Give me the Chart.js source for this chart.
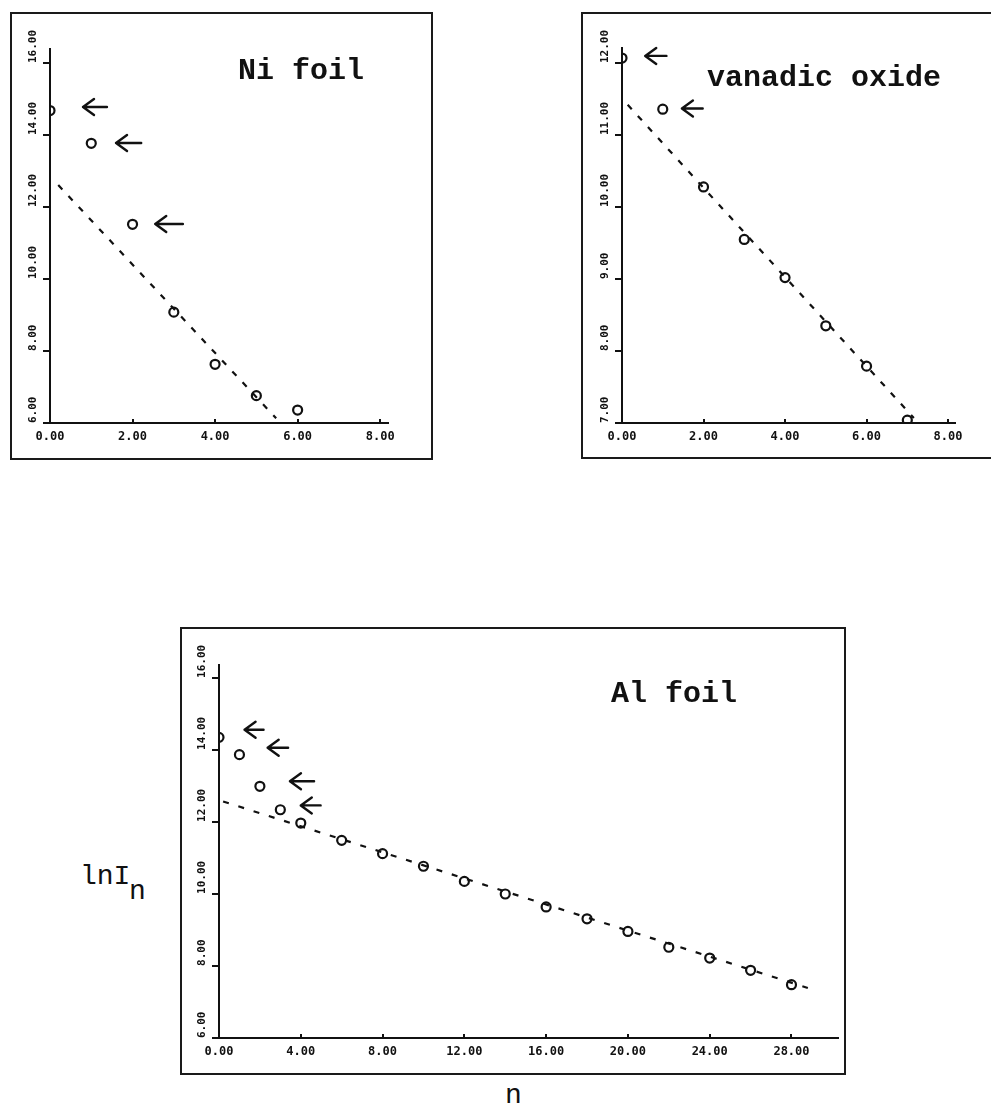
<!DOCTYPE html>
<html>
<head>
<meta charset="utf-8">
<title>lnI_n versus n</title>
<script src="https://cdn.jsdelivr.net/npm/chart.js@4/dist/chart.umd.min.js"></script>
<style>
  html, body { margin: 0; padding: 0; background: #fff; }
  #page { position: relative; width: 991px; height: 1109px; overflow: hidden; background: #fff; }
  .frame { position: absolute; border: 2px solid #1a1a1a; box-sizing: border-box; }
  canvas { position: absolute; }
  .txt { position: absolute; font-family: "Liberation Mono", "DejaVu Sans Mono", monospace; color: #111; white-space: pre; }
  .ttl { font-size: 30px; line-height: 30px; font-weight: bold; }
  .axl { font-size: 28px; line-height: 28px; }
</style>
</head>
<body>
<div id="page">
  <div class="frame" style="left:10px;top:12px;width:423px;height:448px"></div>
  <div class="frame" style="left:581px;top:12px;width:420px;height:447px"></div>
  <div class="frame" style="left:180px;top:627px;width:666px;height:448px"></div>

  <canvas id="ni" width="421" height="447" style="left:11px;top:13px"></canvas>
  <canvas id="va" width="409" height="447" style="left:582px;top:13px"></canvas>
  <canvas id="al" width="664" height="446" style="left:181px;top:628px"></canvas>

  <div class="txt ttl" style="left:238px;top:56px">Ni foil</div>
  <div class="txt ttl" style="left:707px;top:63px">vanadic oxide</div>
  <div class="txt ttl" style="left:611px;top:679px">Al foil</div>

  <div class="txt axl" style="left:80px;top:863px">lnI</div>
  <div class="txt axl" style="left:129px;top:878px">n</div>
  <div class="txt axl" style="left:505px;top:1082px">n</div>
</div>

<script>
// ---- Ni foil ----
const niN      = [0, 1, 2, 3, 4, 5, 6];
const niLnI    = [14.68, 13.77, 11.52, 9.08, 7.63, 6.76, 6.36];
const niFitN   = [0.2, 5.48];
const niFitLnI = [12.61, 6.13];
const niXTicks = [0, 2, 4, 6, 8];
const niYTicks = [6, 8, 10, 12, 14, 16];
// arrows: [tip n, tail n, lnI]
const niArrows = [[0.8, 1.38, 14.78], [1.6, 2.21, 13.78], [2.55, 3.22, 11.53]];

// ---- vanadic oxide ----
const vaN      = [0, 1, 2, 3, 4, 5, 6, 7];
const vaLnI    = [12.07, 11.36, 10.28, 9.55, 9.02, 8.35, 7.79, 7.04];
const vaFitN   = [0.14, 7.16];
const vaFitLnI = [11.42, 7.07];
const vaXTicks = [0, 2, 4, 6, 8];
const vaYTicks = [7, 8, 9, 10, 11, 12];
const vaArrows = [[0.57, 1.09, 12.1], [1.47, 1.98, 11.37]];

// ---- Al foil ----
const alN      = [0, 1, 2, 3, 4, 6, 8, 10, 12, 14, 16, 18, 20, 22, 24, 26, 28];
const alLnI    = [14.35, 13.87, 12.99, 12.34, 11.97, 11.49, 11.12, 10.77, 10.35, 10.0,
                  9.64, 9.31, 8.96, 8.52, 8.22, 7.88, 7.48];
const alFitN   = [0.2, 28.8];
const alFitLnI = [12.57, 7.39];
const alXTicks = [0, 4, 8, 12, 16, 20, 24, 28];
const alYTicks = [6, 8, 10, 12, 14, 16];
const alArrows = [[1.25, 2.18, 14.56], [2.38, 3.38, 14.06], [3.47, 4.65, 13.13], [4.0, 4.97, 12.46]];

const INK = '#111';

function pairs(xs, ys) { return xs.map((x, i) => ({ x: x, y: ys[i] })); }

function arrowPlugin(items) {
  return {
    id: 'arrows',
    afterDatasetsDraw(chart) {
      const { ctx, scales } = chart;
      ctx.save();
      ctx.strokeStyle = INK;
      ctx.lineWidth = 2.4;
      ctx.lineCap = 'round';
      ctx.lineJoin = 'round';
      items.forEach(a => {
        const tip = scales.x.getPixelForValue(a[0]);
        const tail = scales.x.getPixelForValue(a[1]);
        const py = scales.y.getPixelForValue(a[2]);
        ctx.beginPath();
        ctx.moveTo(tail, py);
        ctx.lineTo(tip, py);
        ctx.moveTo(tip + 11, py - 8);
        ctx.lineTo(tip, py);
        ctx.lineTo(tip + 11, py + 8);
        ctx.stroke();
      });
      ctx.restore();
    }
  };
}

function panel(id, p) {
  return new Chart(document.getElementById(id), {
    type: 'scatter',
    data: {
      datasets: [
        {
          data: pairs(p.fitN, p.fitLnI),
          showLine: true,
          borderColor: INK,
          borderWidth: 2.2,
          borderDash: p.dash,
          pointRadius: 0,
          fill: false
        },
        {
          data: pairs(p.n, p.lnI),
          showLine: false,
          pointStyle: 'circle',
          pointRadius: 4.5,
          borderWidth: 2.2,
          borderColor: INK,
          backgroundColor: 'rgba(255,255,255,0)'
        }
      ]
    },
    options: {
      responsive: false,
      animation: false,
      devicePixelRatio: 1,
      events: [],
      layout: { padding: p.pad },
      plugins: { legend: { display: false }, tooltip: { enabled: false }, title: { display: false } },
      scales: {
        x: {
          type: 'linear',
          min: p.xMin, max: p.xMax,
          afterBuildTicks: s => { s.ticks = p.xTicks.map(v => ({ value: v })); },
          afterFit: s => { s.height = p.xH; },
          grid: { drawOnChartArea: false, drawTicks: true, tickLength: -4, lineWidth: 2, color: INK },
          border: { display: true, width: 2, color: INK },
          ticks: {
            autoSkip: false, minRotation: 0, maxRotation: 0, padding: 11, color: INK,
            font: { family: 'DejaVu Sans Mono', weight: 'bold', size: 12 },
            callback: v => Number(v).toFixed(2)
          }
        },
        y: {
          type: 'linear',
          min: p.yMin, max: p.yMax,
          afterBuildTicks: s => { s.ticks = p.yTicks.map(v => ({ value: v })); },
          afterFit: s => { s.width = p.yW; },
          grid: { drawOnChartArea: false, drawTicks: true, tickLength: 7, lineWidth: 2, color: INK },
          border: { display: true, width: 2, color: INK },
          ticks: {
            // labels read upward, starting at their tick, in a column left of the axis
            autoSkip: false, minRotation: 90, maxRotation: 90, mirror: true, padding: -17, color: INK,
            font: { family: 'DejaVu Sans Mono', weight: 'bold', size: 11 },
            callback: v => Number(v).toFixed(2)
          }
        }
      }
    },
    plugins: [arrowPlugin(p.arrows)]
  });
}

panel('ni', {
  n: niN, lnI: niLnI, fitN: niFitN, fitLnI: niFitLnI, arrows: niArrows,
  xTicks: niXTicks, yTicks: niYTicks,
  xMin: 0, xMax: 8.19, yMin: 6, yMax: 16.39,
  pad: { left: 0, top: 36, right: 44, bottom: 0 }, yW: 39, xH: 37,
  dash: [6, 9]
});

panel('va', {
  n: vaN, lnI: vaLnI, fitN: vaFitN, fitLnI: vaFitLnI, arrows: vaArrows,
  xTicks: vaXTicks, yTicks: vaYTicks,
  xMin: 0, xMax: 8.17, yMin: 7, yMax: 12.21,
  pad: { left: 0, top: 35, right: 36, bottom: 0 }, yW: 40, xH: 37,
  dash: [6, 9]
});

panel('al', {
  n: alN, lnI: alLnI, fitN: alFitN, fitLnI: alFitLnI, arrows: alArrows,
  xTicks: alXTicks, yTicks: alYTicks,
  xMin: 0, xMax: 30.29, yMin: 6, yMax: 16.36,
  pad: { left: 0, top: 37, right: 2, bottom: 0 }, yW: 38, xH: 36,
  dash: [6, 10]
});
</script>
</body>
</html>
